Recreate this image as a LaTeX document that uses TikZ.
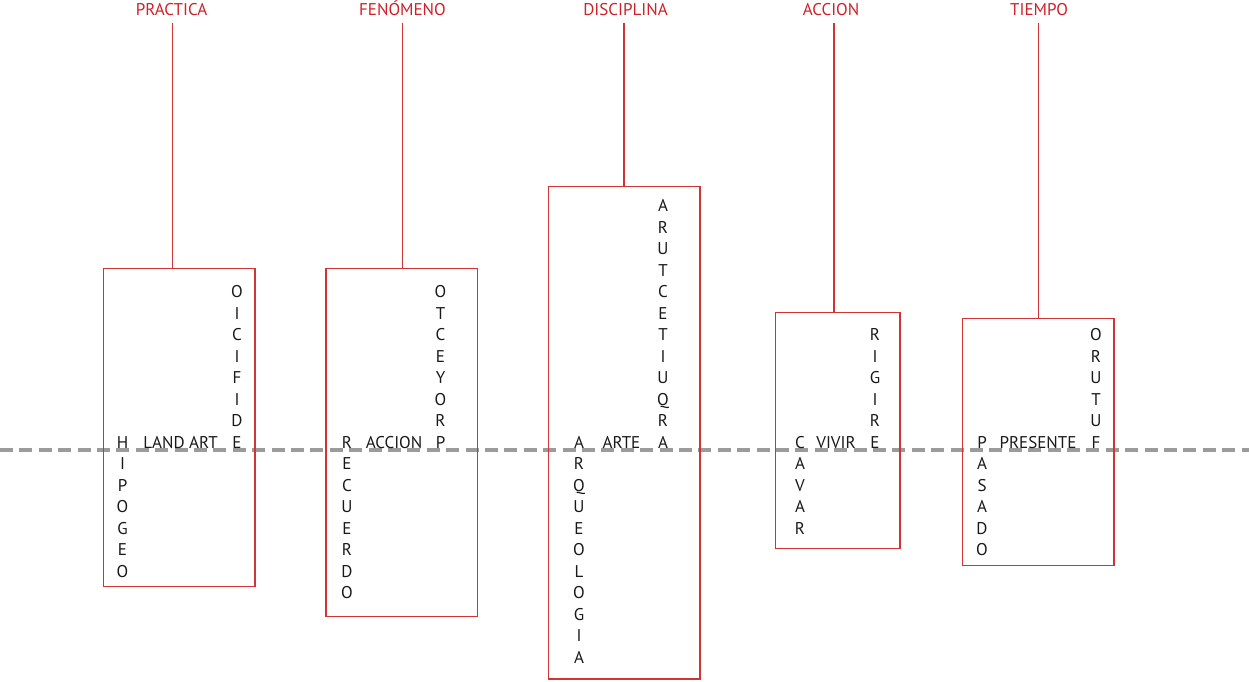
\documentclass[tikz,border=0pt]{standalone}
\usepackage{fontspec}
\setmainfont{PT Sans}
\definecolor{titred}{RGB}{208,32,40}
\definecolor{boxred}{RGB}{208,52,52}
\definecolor{dashgray}{RGB}{155,155,155}
\tikzset{
  ttl/.style={text=titred, font=\fontsize{17}{20}\selectfont, inner sep=0pt, anchor=base},
  stem/.style={draw=boxred, line width=1.3pt},
  wbox/.style={draw=boxred, line width=1.3pt},
  let/.style={font=\fontsize{17}{20}\selectfont, text=black!90, inner sep=0pt, anchor=base},
  mid/.style={font=\fontsize{17}{20}\selectfont, text=black!90, inner sep=0pt, anchor=base},
  axis/.style={draw=dashgray, line width=4.7pt, dash pattern=on 13pt off 6.4pt}
}
\newcommand{\downword}[4]{% name, x, letters
  \foreach \l [count=\i] in {#3} {
    \node[let] (#1-\i) at (#2, 448+21.5*\i-21.5) {\l};
  }
}
\newcommand{\upword}[4]{% name, x, count, letters (top to bottom)
  \foreach \l [count=\i] in {#4} {
    \node[let] (#1-\i) at (#2, 448-21.5*#3+21.5*\i) {\l};
  }
}
\begin{document}
\begin{tikzpicture}[x=1pt,y=-1pt]
\useasboundingbox (0,0) rectangle (1249,681);
% dashed axis
\coordinate (axL) at (0,450);
\coordinate (axR) at (1249,450);
\draw[axis] (axL) -- (axR);
% titles
\node[ttl] (t1) at (171.5,15) {PRACTICA};
\node[ttl] (t2) at (402.5,15) {FENÓMENO};
\node[ttl] (t3) at (625.5,15) {DISCIPLINA};
\node[ttl] (t4) at (831,15) {ACCION};
\node[ttl] (t5) at (1039,15) {TIEMPO};
% boxes
\coordinate (b1a) at (103.5,268.3); \coordinate (b1b) at (255,586.7);
\coordinate (b2a) at (326,268.3);   \coordinate (b2b) at (477.3,616.7);
\coordinate (b3a) at (548.3,186.7); \coordinate (b3b) at (700,679);
\coordinate (b4a) at (775.7,312.7); \coordinate (b4b) at (900,548.3);
\coordinate (b5a) at (962.7,318.3); \coordinate (b5b) at (1114,565.7);
\draw[wbox] (b1a) rectangle (b1b);
\draw[wbox] (b2a) rectangle (b2b);
\draw[wbox] (b3a) rectangle (b3b);
\draw[wbox] (b4a) rectangle (b4b);
\draw[wbox] (b5a) rectangle (b5b);
% stems
\coordinate (s1) at (172.3,23);  \coordinate (e1) at (172.3,268.3);
\coordinate (s2) at (402.3,23);  \coordinate (e2) at (402.3,268.3);
\coordinate (s3) at (624,23);    \coordinate (e3) at (624,186.7);
\coordinate (s4) at (834,23);    \coordinate (e4) at (834,312.7);
\coordinate (s5) at (1038.3,23); \coordinate (e5) at (1038.3,318.3);
\draw[stem] (s1) -- (e1);
\draw[stem] (s2) -- (e2);
\draw[stem] (s3) -- (e3);
\draw[stem] (s4) -- (e4);
\draw[stem] (s5) -- (e5);
% column 1
\downword{hip}{122.5}{H,I,P,O,G,E,O}{}
\upword{edi}{237}{8}{O,I,C,I,F,I,D,E}
\node[mid] (land) at (180.5,448) {LAND ART};
% column 2
\downword{rec}{347}{R,E,C,U,E,R,D,O}{}
\upword{pro}{440.5}{8}{O,T,C,E,Y,O,R,P}
\node[mid] (acc) at (394,448) {ACCION};
% column 3
\downword{arq}{579}{A,R,Q,U,E,O,L,O,G,I,A}{}
\upword{arc}{663}{12}{A,R,U,T,C,E,T,I,U,Q,R,A}
\node[mid] (arte) at (621.5,448) {ARTE};
% column 4
\downword{cav}{800}{C,A,V,A,R}{}
\upword{eri}{875}{6}{R,I,G,I,R,E}
\node[mid] (viv) at (836,448) {VIVIR};
% column 5
\downword{pas}{982}{P,A,S,A,D,O}{}
\upword{fut}{1096}{6}{O,R,U,T,U,F}
\node[mid] (pre) at (1038,448) {PRESENTE};
\end{tikzpicture}
\end{document}
